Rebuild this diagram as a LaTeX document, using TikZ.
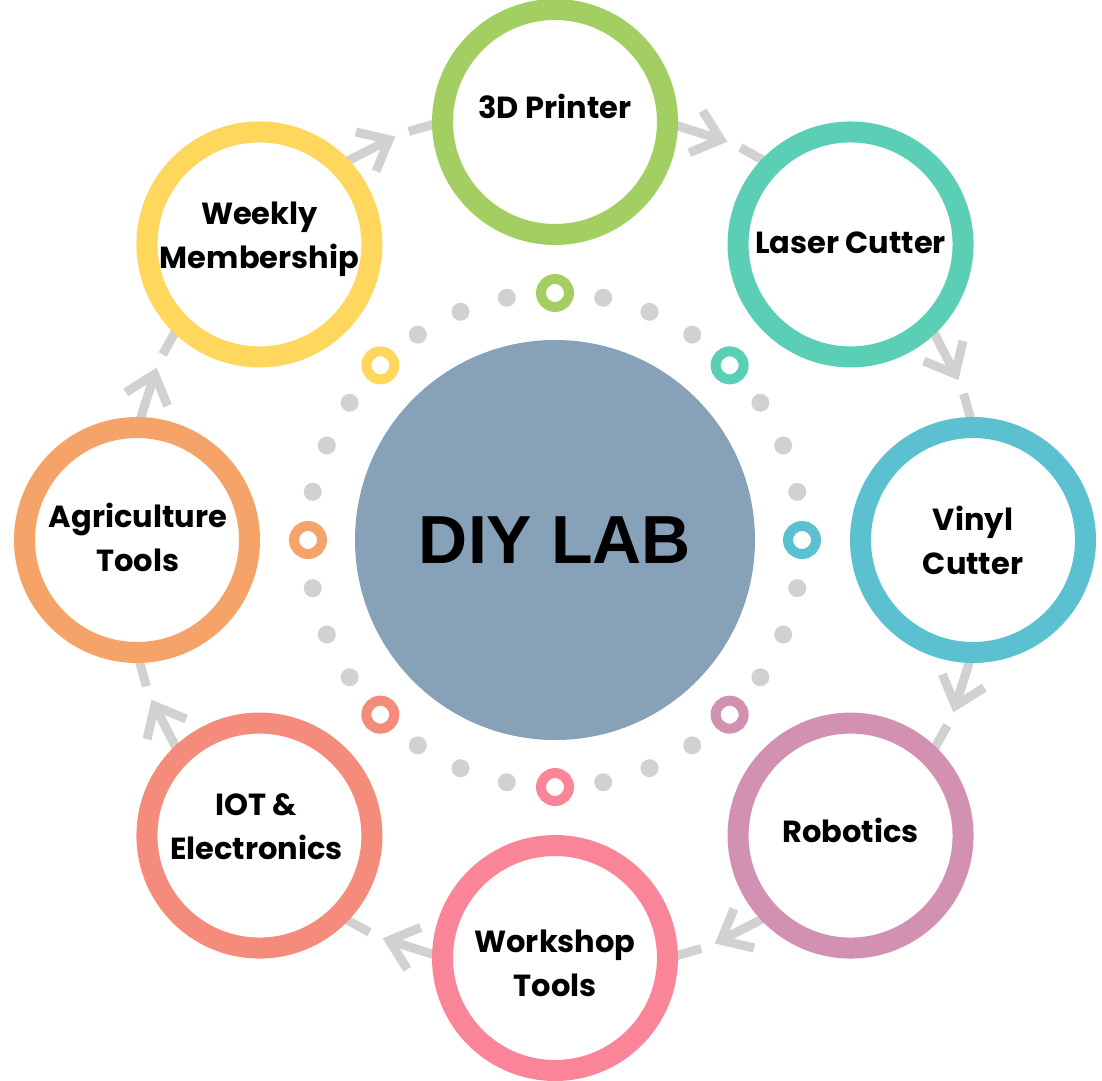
\documentclass[tikz,border=0pt]{standalone}
\usepackage{fontspec}
\setmainfont{Poppins}
\newfontfamily\arialf{Liberation Sans}
\usetikzlibrary{arrows.meta}
\definecolor{cA}{HTML}{A3CF62}
\definecolor{cB}{HTML}{5BCFB5}
\definecolor{cC}{HTML}{5BC1D1}
\definecolor{cD}{HTML}{D291B1}
\definecolor{cE}{HTML}{FA8599}
\definecolor{cF}{HTML}{F48B7B}
\definecolor{cG}{HTML}{F6A369}
\definecolor{cH}{HTML}{FED75C}
\definecolor{cCenter}{HTML}{87A2B8}
\definecolor{cGray}{HTML}{D1D1D1}
\begin{document}
\begin{tikzpicture}[x=1pt,y=1pt,
  ring/.style={circle, draw=#1, fill=white, line width=21pt, minimum size=225pt, inner sep=0pt},
  lbl/.style={font=\fontsize{30.5}{44}\selectfont\bfseries, align=center, text=black, inner sep=0pt},
  conn/.style={draw=cGray, line width=9pt},
  arr/.style={-{Straight Barb[sharp, length=26pt, width=44pt]}},
  dotg/.style={circle, fill=cGray, minimum size=18pt, inner sep=0pt},
  minir/.style={circle, draw=#1, line width=10pt, minimum size=28pt, inner sep=0pt},
]
\useasboundingbox (-555,-540) rectangle (547,540);

% connectors (drawn first, ends hidden under the rings)
\foreach \k in {0,...,7} {
  \pgfmathsetmacro\a{90-45*\k}
  \coordinate (s\k) at ({\a-12}:434);
  \coordinate (t\k) at ({\a-23.4}:434);
  \coordinate (u\k) at ({\a-25.3}:434);
  \coordinate (v\k) at ({\a-33}:434);
  \draw[conn, arr] (s\k) -- (t\k);
  \draw[conn] (u\k) -- (v\k);
}

% outer rings
\node[ring=cA] (n0) at (90:418) {};
\node[ring=cB] (n1) at (45:418) {};
\node[ring=cC] (n2) at (0:418) {};
\node[ring=cD] (n3) at (-45:418) {};
\node[ring=cE] (n4) at (-90:418) {};
\node[ring=cF] (n5) at (-135:418) {};
\node[ring=cG] (n6) at (180:418) {};
\node[ring=cH] (n7) at (135:418) {};

% labels
\node[lbl] (l0) at ([yshift=16pt]n0.center) {3D Printer};
\node[lbl] (l1) at ([yshift=2pt]n1.center) {Laser Cutter};
\node[lbl] (l2) at ([yshift=0pt]n2.center) {Vinyl\\Cutter};
\node[lbl] (l3) at ([yshift=5pt]n3.center) {Robotics};
\node[lbl] (l4) at ([yshift=-5pt]n4.center) {Workshop\\Tools};
\node[lbl] (l5) at ([yshift=9pt,xshift=-3pt]n5.center) {IOT \&\\Electronics};
\node[lbl] (l6) at ([yshift=3pt,xshift=1pt]n6.center) {Agriculture\\Tools};
\node[lbl] (l7) at ([yshift=5pt]n7.center) {Weekly\\Membership};

% inner dotted circle
\foreach \c [count=\k from 0] in {cA,cB,cC,cD,cE,cF,cG,cH} {
  \node[minir=\c] (m\k) at ({90-45*\k}:247) {};
  \foreach \i in {1,2,3}
    \node[dotg] (d\k-\i) at ({90-45*\k-11.25*\i}:247) {};
}

% centre
\node[circle, fill=cCenter, minimum size=400pt, inner sep=0pt,
  font=\arialf\bfseries\fontsize{68}{80}\selectfont] (c) at (0,0) {DIY LAB};
\end{tikzpicture}
\end{document}
